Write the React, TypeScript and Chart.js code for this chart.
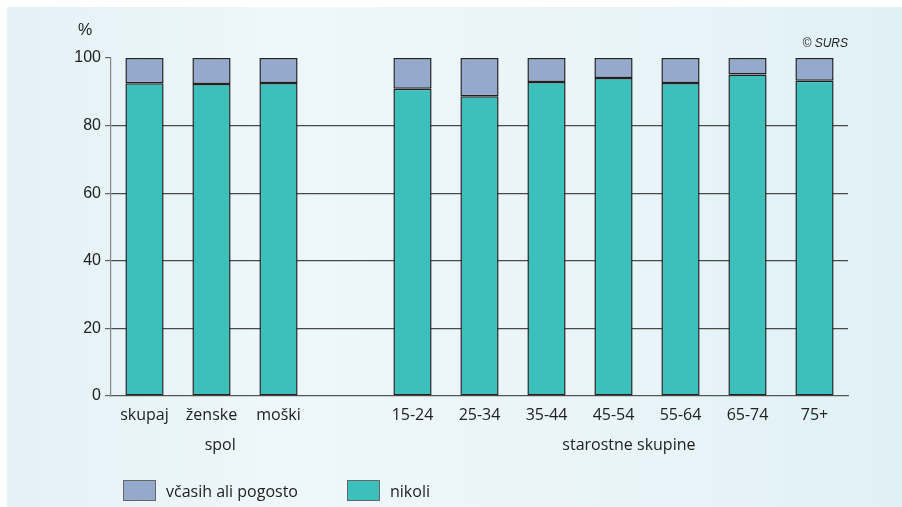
import React, { useEffect, useRef } from "react";
import { Chart, registerables } from "chart.js";

Chart.register(...registerables);

const categories = ["skupaj", "ženske", "moški", "", "15-24", "25-34", "35-44", "45-54", "55-64", "65-74", "75+"];
const nikoli = [92.5, 92.3, 92.6, null, 90.9, 88.7, 92.9, 94.1, 92.6, 95.1, 93.3];
const vcasih = [7.5, 7.7, 7.4, null, 9.1, 11.3, 7.1, 5.9, 7.4, 4.9, 6.7];
const seriesNames = ["nikoli", "včasih ali pogosto"];
const groupLabels = ["spol", "starostne skupine"];
const groupPositions = [1.13, 7.23];
const yTicks = [0, 20, 40, 60, 80, 100];

const TEAL = "#3dbfbc";
const BLUE = "#94a9cc";
const TEXT = "#222222";
const XFONT = '"Open Sans", "Noto Sans", sans-serif';
const YFONT = '"Liberation Sans", Arial, sans-serif';

const extrasPlugin = {
  id: "extras",
  afterDraw(chart: any) {
    const ctx = chart.ctx;
    const x = chart.scales.x;
    ctx.save();
    ctx.fillStyle = TEXT;
    ctx.font = `16px ${YFONT}`;
    ctx.textAlign = "center";
    ctx.textBaseline = "middle";
    ctx.fillText("%", 78, 24);
    ctx.font = `italic 12px ${YFONT}`;
    ctx.textAlign = "right";
    ctx.fillText("© SURS", 841, 37);
    ctx.font = `16px ${XFONT}`;
    ctx.textAlign = "center";
    groupLabels.forEach((g, i) => {
      ctx.fillText(g, x.getPixelForValue(groupPositions[i]), 438);
    });
    const items = [
      { label: seriesNames[1], color: BLUE, bx: 116, tx: 159 },
      { label: seriesNames[0], color: TEAL, bx: 340, tx: 383 },
    ];
    ctx.textAlign = "left";
    items.forEach((it) => {
      ctx.fillStyle = it.color;
      ctx.fillRect(it.bx, 473, 33, 21);
      ctx.strokeStyle = "#666";
      ctx.lineWidth = 1;
      ctx.strokeRect(it.bx + 0.5, 473.5, 32, 20);
      ctx.fillStyle = TEXT;
      ctx.fillText(it.label, it.tx, 485);
    });
    ctx.restore();
  },
};

export default function App() {
  const canvasRef = useRef<HTMLCanvasElement | null>(null);

  useEffect(() => {
    if (!canvasRef.current) return;
    const chart = new Chart(canvasRef.current, {
      type: "bar",
      data: {
        labels: categories,
        datasets: [
          {
            label: seriesNames[0],
            data: nikoli as any,
            backgroundColor: TEAL,
            borderColor: "#222",
            borderWidth: 1.5,
            borderSkipped: false,
            barPercentage: 0.57,
            categoryPercentage: 1,
          },
          {
            label: seriesNames[1],
            data: vcasih as any,
            backgroundColor: BLUE,
            borderColor: "#222",
            borderWidth: 1.5,
            borderSkipped: false,
            barPercentage: 0.57,
            categoryPercentage: 1,
          },
        ],
      },
      options: {
        animation: false,
        responsive: true,
        maintainAspectRatio: false,
        layout: { padding: { top: 51, right: 54, bottom: 0, left: 0 } },
        plugins: {
          legend: { display: false },
          tooltip: { enabled: false },
        },
        scales: {
          x: {
            stacked: true,
            grid: { display: false, drawTicks: false },
            border: { display: true, color: "#555", width: 1.2 },
            ticks: {
              color: TEXT,
              font: { family: XFONT, size: 16 },
              padding: 10,
              autoSkip: false,
              maxRotation: 0,
            },
            afterFit(scale: any) {
              scale.height = 111;
            },
          },
          y: {
            stacked: true,
            min: 0,
            max: 100,
            afterBuildTicks(scale: any) {
              scale.ticks = yTicks.map((v) => ({ value: v }));
            },
            grid: {
              color: (c: any) => (c.tick && (c.tick.value === 100 || c.tick.value === 0) ? "rgba(0,0,0,0)" : "#4a4a4a"),
              tickColor: "#666",
              tickLength: 6,
              lineWidth: 1.2,
            },
            border: { display: true, color: "#888", width: 1.2 },
            ticks: {
              color: TEXT,
              font: { family: YFONT, size: 16 },
              padding: 4,
            },
            afterFit(scale: any) {
              scale.width = 104;
            },
          },
        },
      },
      plugins: [extrasPlugin],
    });
    return () => chart.destroy();
  }, []);

  return (
    <div
      style={{
        position: "fixed",
        left: 7,
        top: 7,
        width: 895,
        height: 500,
        background: "linear-gradient(to right, #e3f1f6 0%, #eef7fa 30%, #ebf5f9 60%, #e0f1f6 100%)",
      }}
    >
      <canvas ref={canvasRef} />
    </div>
  );
}
